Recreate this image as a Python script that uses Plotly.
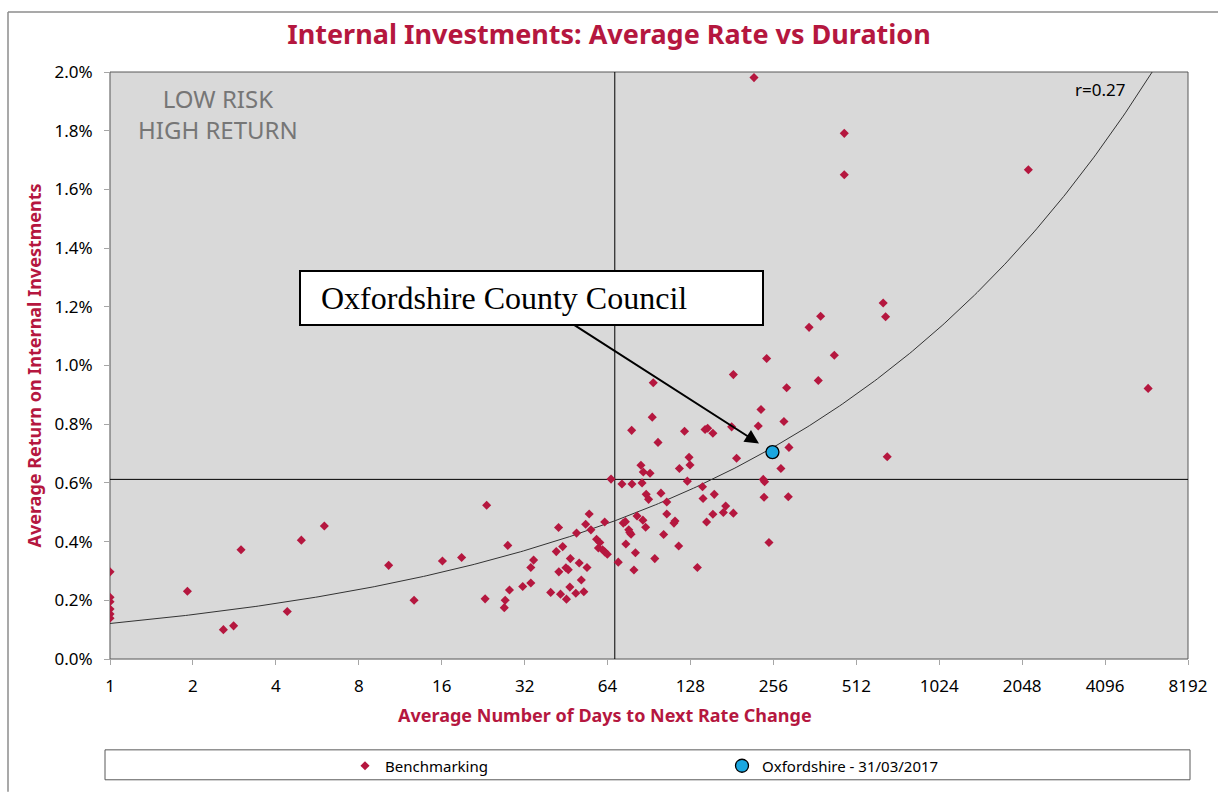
import numpy as np
import plotly.graph_objects as go

# ---- data (days, return as fraction) ----
bench_days = [1, 1, 1, 1, 1, 1, 1.91, 2.58, 2.81, 2.99, 4.4, 4.95, 6.0, 10.27, 12.7, 16.1, 18.9,
              23.3, 23.0, 27.8, 27.2, 27.0, 28.2, 31.5, 33.7, 33.7, 34.5, 39.8, 42.5, 41.7, 44.0,
              42.6, 43.2, 45.4, 45.2, 46.1, 46.9, 46.7, 49.1, 50.5, 51.4, 52.5, 53.9, 49.4, 53.3,
              54.9, 55.7, 58.4, 60.0, 59.3, 61.4, 62.5, 63.9, 62.5, 65.9, 70.0, 72.2, 78.5, 85.4,
              78.3, 93.0, 93.8, 97.6, 84.6, 86.3, 91.3, 73.0, 74.3, 76.4, 77.1, 77.9, 74.6, 80.8,
              79.8, 81.9, 86.0, 88.0, 88.4, 90.2, 100, 105, 105, 102.3, 95, 112.5, 111.5, 116,
              116.7, 126.5, 127.5, 124.7, 121.8, 135.6, 141.6, 142.2, 156.2, 154.4, 146.5, 168.5,
              171.8, 183.2, 144.6, 147.8, 154.4, 180.6, 183.2, 188.2, 225.6, 230.8, 242, 235.2,
              237.9, 236.8, 246.7, 272.6, 279.6, 291.6, 290, 286, 345, 380, 372.6, 426, 641, 654,
              663, 217.7, 463, 463, 2157, 5870]
bench_rate = [0.297, 0.210, 0.195, 0.170, 0.153, 0.139, 0.231, 0.100, 0.113, 0.372, 0.162, 0.405,
              0.453, 0.319, 0.200, 0.334, 0.346, 0.524, 0.205, 0.387, 0.200, 0.175, 0.235, 0.247,
              0.259, 0.312, 0.337, 0.227, 0.448, 0.366, 0.383, 0.297, 0.221, 0.204, 0.311, 0.304,
              0.342, 0.245, 0.224, 0.327, 0.269, 0.229, 0.312, 0.429, 0.459, 0.494, 0.440, 0.408,
              0.397, 0.378, 0.372, 0.365, 0.357, 0.467, 0.613, 0.330, 0.596, 0.596, 0.600, 0.779,
              0.824, 0.941, 0.738, 0.660, 0.637, 0.633, 0.463, 0.468, 0.440, 0.431, 0.425, 0.392,
              0.362, 0.303, 0.487, 0.473, 0.449, 0.561, 0.544, 0.565, 0.535, 0.494, 0.424, 0.342,
              0.470, 0.463, 0.385, 0.649, 0.687, 0.661, 0.606, 0.776, 0.312, 0.587, 0.547, 0.561,
              0.493, 0.467, 0.499, 0.521, 0.497, 0.782, 0.786, 0.769, 0.791, 0.969, 0.684, 0.794,
              0.850, 1.024, 0.612, 0.604, 0.551, 0.397, 0.649, 0.809, 0.721, 0.553, 0.924, 1.130,
              1.168, 0.949, 1.035, 1.213, 1.166, 0.689, 1.981, 1.791, 1.650, 1.667, 0.922]
bench_rate = [v / 100 for v in bench_rate]

oxf_days = [254]
oxf_rate = [0.705 / 100]

avg_days = 68            # vertical reference line
avg_rate = 0.612 / 100   # horizontal reference line

# power trend line shown on the chart (y = a * x^b), parameters
trend_a = 0.00121
trend_b = 0.322
trend_r_label = "r=0.27"

x_tick_vals = [1, 2, 4, 8, 16, 32, 64, 128, 256, 512, 1024, 2048, 4096, 8192]
x_tick_text = [str(v) for v in x_tick_vals]

CRIMSON = "#b5173f"
FONT = "Noto Sans"

trend_x = np.logspace(0, np.log10(8192), 400)
trend_y = trend_a * trend_x ** trend_b

fig = go.Figure()

fig.add_trace(go.Scatter(x=[avg_days, avg_days], y=[0, 0.02], mode="lines",
                         line=dict(color="black", width=1), showlegend=False, hoverinfo="skip"))
fig.add_trace(go.Scatter(x=[1, 8192], y=[avg_rate, avg_rate], mode="lines",
                         line=dict(color="black", width=1), showlegend=False, hoverinfo="skip"))
fig.add_trace(go.Scatter(x=trend_x, y=trend_y, mode="lines",
                         line=dict(color="#333333", width=1), showlegend=False, hoverinfo="skip"))

fig.add_trace(go.Scatter(x=bench_days, y=bench_rate, mode="markers", name="Benchmarking",
                         marker=dict(symbol="diamond", size=7, color=CRIMSON,
                                     line=dict(width=0))))
fig.add_trace(go.Scatter(x=oxf_days, y=oxf_rate, mode="markers", name="Oxfordshire - 31/03/2017",
                         marker=dict(symbol="circle", size=13, color="#1aa7e0",
                                     line=dict(color="black", width=1.3))))

L, R, T, B = 110, 30, 72, 133
W, H = 1218, 793
pw, ph = W - L - R, H - T - B


def px(x):
    return (x - L) / pw


def py(y):
    return (H - B - y) / ph


fig.update_layout(
    width=W, height=H,
    margin=dict(l=L, r=R, t=T, b=B),
    paper_bgcolor="white",
    plot_bgcolor="#d9d9d9",
    font=dict(family=FONT, size=15, color="black"),
    title=dict(text="Internal Investments: Average Rate vs Duration",
               x=0.5, xref="container", xanchor="center", y=1 - 35 / H, yanchor="middle",
               font=dict(family=FONT, size=27, color=CRIMSON, weight="bold")),
    showlegend=True,
    legend=dict(orientation="h", x=px(345), xanchor="left", y=py(766), yanchor="middle",
                entrywidth=332, bgcolor="rgba(0,0,0,0)", borderwidth=0,
                font=dict(family=FONT, size=15, color="black")),
    xaxis=dict(type="log", range=[0, np.log10(8192)], tickvals=x_tick_vals, ticktext=x_tick_text,
               showgrid=False, zeroline=False, showline=True, linecolor="#a6a6a6", linewidth=1,
               ticks="outside", ticklen=5, tickcolor="#a6a6a6", ticklabelstandoff=7,
               tickfont=dict(family=FONT, size=17, color="black")),
    yaxis=dict(range=[0, 0.02], dtick=0.002, tickformat=".1%", showgrid=False, zeroline=False,
               showline=True, linecolor="#a6a6a6", linewidth=1, ticks="outside", ticklen=5,
               tickcolor="#a6a6a6", ticklabelstandoff=8,
               tickfont=dict(family=FONT, size=17, color="black"),
               title=dict(text="Average Return on Internal Investments", standoff=8,
                          font=dict(family=FONT, size=18, color=CRIMSON, weight="bold"))),
    shapes=[
        dict(type="rect", xref="paper", yref="paper", x0=0, x1=1, y0=0, y1=1,
             line=dict(color="#595959", width=1), layer="below"),
        dict(type="rect", xref="paper", yref="paper", x0=px(105), x1=px(1190), y0=py(751), y1=py(781),
             line=dict(color="#595959", width=1)),
        dict(type="line", xref="paper", yref="paper", x0=px(8), x1=px(1218), y0=py(12), y1=py(12),
             line=dict(color="#8c8c8c", width=1.5)),
        dict(type="line", xref="paper", yref="paper", x0=px(8), x1=px(8), y0=py(12), y1=py(793),
             line=dict(color="#8c8c8c", width=1.5)),
    ],
    annotations=[
        dict(text="LOW RISK<br>HIGH RETURN", xref="paper", yref="paper", x=px(218), y=py(114),
             xanchor="center", yanchor="middle", showarrow=False,
             font=dict(family=FONT, size=24, color="#767676"), align="center"),
        dict(text=trend_r_label, xref="paper", yref="paper", x=px(1100), y=py(90),
             xanchor="center", yanchor="middle", showarrow=False,
             font=dict(family=FONT, size=17, color="black")),
        dict(text="Average Number of Days to Next Rate Change", xref="paper", yref="paper",
             x=px(605), y=py(716), xanchor="center", yanchor="middle", showarrow=False,
             font=dict(family=FONT, size=18, color=CRIMSON, weight="bold")),
        dict(text="&nbsp;&nbsp;Oxfordshire County Council", x=np.log10(oxf_days[0]), y=oxf_rate[0],
             xref="x", yref="y", ax=532 - 772.5, ay=298.5 - 452.7, axref="pixel", ayref="pixel",
             showarrow=True, arrowhead=2, arrowsize=1.4, arrowwidth=2, arrowcolor="black",
             standoff=16, bgcolor="white", bordercolor="black", borderwidth=2, borderpad=4,
             width=453, height=44, align="left",
             font=dict(family="Liberation Serif", size=32, color="black")),
    ],
)

fig.write_html("out.html", config={"displayModeBar": False},
               post_script="document.body.style.margin='0';")
